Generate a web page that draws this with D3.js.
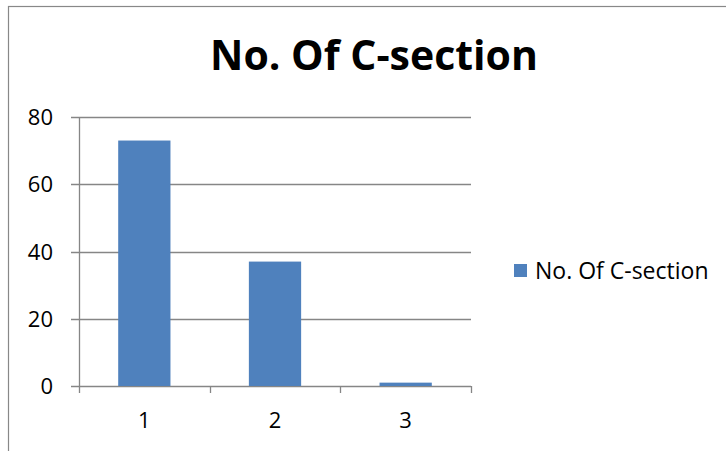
<!DOCTYPE html>
<html>
<head>
<meta charset="utf-8">
<script src="https://cdn.jsdelivr.net/npm/d3@7"></script>
<style>
  body { margin: 0; background: #fff; }
  text { font-family: "Open Sans", "Liberation Sans", sans-serif; fill: #000; }
</style>
</head>
<body>
<svg id="chart"></svg>
<script>
// chart data
const categories = ["1", "2", "3"];
const values = [73, 37, 1];
const yTicks = [0, 20, 40, 60, 80];
const seriesName = "No. Of C-section";
const titleText = "No. Of C-section";

const width = 726;
const height = 451;
const plot = { left: 79, right: 471, top: 117, bottom: 386 };

const svg = d3.select("#chart").attr("width", width).attr("height", height);

// outer chart border (only left and top are visible)
svg.append("rect")
    .attr("x", 8.5).attr("y", 6.5)
    .attr("width", 800).attr("height", 600)
    .attr("fill", "none")
    .attr("stroke", "#888").attr("stroke-width", 1.2);

const x = d3.scaleBand()
    .domain(categories)
    .range([plot.left, plot.right])
    .paddingInner(0.6)
    .paddingOuter(0.3);

const y = d3.scaleLinear()
    .domain([0, 80])
    .range([plot.bottom, plot.top]);

// gridlines
svg.append("g")
    .selectAll("line")
    .data(yTicks)
    .enter().append("line")
    .attr("x1", plot.left - 8)
    .attr("x2", plot.right)
    .attr("y1", d => Math.round(y(d)) + 0.5)
    .attr("y2", d => Math.round(y(d)) + 0.5)
    .attr("stroke", "#868686")
    .attr("stroke-width", 1.3);

// y axis line
svg.append("line")
    .attr("x1", plot.left + 0.5).attr("x2", plot.left + 0.5)
    .attr("y1", plot.top).attr("y2", plot.bottom + 7)
    .attr("stroke", "#868686").attr("stroke-width", 1.3);

// x axis tick marks at category boundaries
const bounds = d3.range(categories.length + 1).map(i => plot.left + i * x.step());
svg.append("g")
    .selectAll("line")
    .data(bounds.slice(1))
    .enter().append("line")
    .attr("x1", d => Math.round(d) + 0.5)
    .attr("x2", d => Math.round(d) + 0.5)
    .attr("y1", plot.bottom)
    .attr("y2", plot.bottom + 7)
    .attr("stroke", "#868686").attr("stroke-width", 1.3);

// bars
svg.append("g")
    .selectAll("rect")
    .data(values)
    .enter().append("rect")
    .attr("x", (d, i) => x(categories[i]))
    .attr("width", x.bandwidth())
    .attr("y", d => y(d))
    .attr("height", d => y(0) - y(d))
    .attr("fill", "#4f81bd");

// y tick labels
svg.append("g")
    .selectAll("text")
    .data(yTicks)
    .enter().append("text")
    .attr("x", 53)
    .attr("y", d => y(d) + 8)
    .attr("text-anchor", "end")
    .attr("font-size", 22)
    .text(d => d);

// x tick labels
svg.append("g")
    .selectAll("text")
    .data(categories)
    .enter().append("text")
    .attr("x", d => x(d) + x.bandwidth() / 2)
    .attr("y", 428)
    .attr("text-anchor", "middle")
    .attr("font-size", 22)
    .text(d => d);

// title
svg.append("text")
    .attr("x", 374)
    .attr("y", 70)
    .attr("text-anchor", "middle")
    .attr("font-size", 41)
    .attr("font-weight", "bold")
    .text(titleText);

// legend
svg.append("rect")
    .attr("x", 514).attr("y", 264)
    .attr("width", 13).attr("height", 13)
    .attr("fill", "#4f81bd");
svg.append("text")
    .attr("x", 535)
    .attr("y", 279)
    .attr("font-size", 23)
    .text(seriesName);
</script>
</body>
</html>
